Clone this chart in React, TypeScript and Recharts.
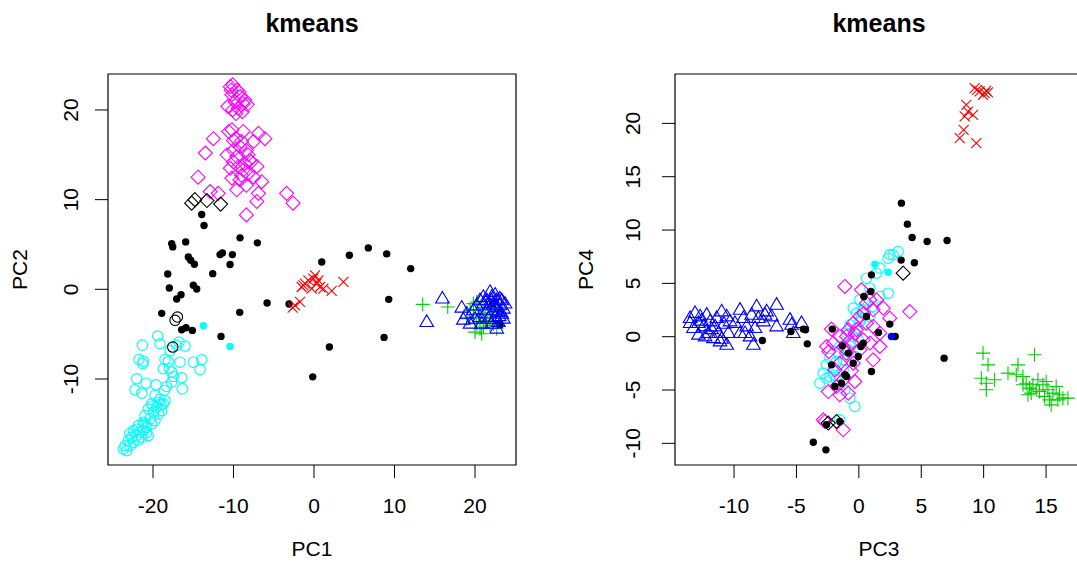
import React from 'react'
import { ScatterChart, Scatter, XAxis, YAxis, ReferenceArea } from 'recharts'

type Pt = [number, number]

// ---- left panel: PC1 vs PC2 ----
const leftXTicks = [-20, -10, 0, 10, 20]
const leftYTicks = [-10, 0, 10, 20]

const leftCyanOpen: Pt[] = [
  [-19.42, -5.21], [-19.13, -6.07], [-21.32, -6.22], [-21.74, -7.82], [-21.2, -8.01], [-21.28, -8.3],
  [-18.51, -7.82], [-18.09, -8.04], [-18.71, -8.86], [-17.97, -8.86], [-17.68, -9.24], [-16.64, -8.12],
  [-16.77, -5.88], [-16.02, -6.33], [-14.99, -8.12], [-13.95, -7.86], [-14.16, -8.94], [-22.03, -9.98],
  [-20.87, -10.47], [-22.23, -11.21], [-21.4, -11.58], [-19.62, -10.65], [-18.3, -10.84], [-18.59, -11.28],
  [-17.68, -10.35], [-16.44, -9.87], [-16.35, -11.1], [-17.47, -9.72], [-17.06, -6.26], [-17.88, -6.81],
  [-19.75, -11.84], [-19.13, -12.22], [-18.71, -12.77], [-20.16, -12.77], [-19.54, -13.15], [-20.58, -13.33],
  [-19.95, -13.71], [-18.92, -13.52], [-20.99, -14.08], [-20.37, -14.45], [-21.2, -14.82], [-19.75, -14.64],
  [-21.82, -15.19], [-20.78, -15.38], [-22.44, -15.75], [-21.61, -15.94], [-20.58, -16.31], [-22.03, -16.31],
  [-22.65, -16.5], [-23.06, -16.87], [-22.44, -17.06], [-23.47, -17.43], [-23.68, -17.8], [-23.27, -17.99],
  [-21.2, -15.75], [-20.16, -15.01], [-19.33, -12.59], [-21.4, -16.5], [-22.85, -17.43], [-18.51, -12.4],
  [-20.0, -13.0], [-19.3, -13.9], [-21.0, -15.0], [-22.0, -15.6], [-20.8, -16.0], [-21.8, -16.8],
  [-19.0, -12.9], [-22.9, -16.1],
]

const leftMagenta: Pt[] = [
  [-10.4, 22.6], [-10.1, 22.8], [-9.6, 22.2], [-10.2, 21.7], [-9.2, 21.5], [-9.8, 20.9], [-8.8, 20.7],
  [-10.7, 20.4], [-9.4, 20.2], [-8.3, 20.6], [-8.9, 19.8], [-10.1, 20.0], [-10.3, 22.2], [-9.3, 22.0],
  [-8.6, 21.1], [-9.7, 19.6],
  [-12.5, 16.8], [-13.5, 15.2], [-14.4, 12.5], [-10.6, 17.6], [-10.2, 17.8], [-8.8, 17.6], [-6.9, 17.4],
  [-6.1, 16.8], [-7.5, 16.5], [-10.0, 16.6], [-9.2, 15.9], [-8.4, 15.5], [-10.8, 15.0], [-9.6, 14.8],
  [-8.0, 14.4], [-7.1, 13.7], [-10.4, 13.5], [-8.8, 13.3], [-7.5, 12.5], [-6.5, 12.0], [-10.2, 12.4],
  [-9.2, 12.2], [-8.4, 11.6], [-9.6, 11.1], [-6.9, 10.7], [-7.1, 9.8], [-8.4, 8.3], [-12.9, 10.9],
  [-11.9, 10.7], [-3.4, 10.7], [-2.6, 9.6], [-9.7, 16.8], [-9.0, 16.5], [-8.2, 15.0], [-7.8, 14.2],
  [-10.0, 14.2], [-9.4, 13.7], [-8.6, 14.0], [-8.2, 12.9], [-9.0, 12.7], [-10.0, 15.5],
]

const leftBlackDot: Pt[] = [
  [-13.95, 8.34], [-13.66, 7.11], [-17.68, 5.1], [-17.55, 4.73], [-15.94, 5.29], [-9.19, 5.74], [-7.04, 5.18],
  [-15.61, 3.61], [-15.32, 3.24], [-14.86, 2.79], [-11.67, 3.87], [-11.38, 4.06], [-10.14, 3.87],
  [-10.43, 2.76], [-12.58, 1.75], [-18.17, 1.71], [-17.97, 0.15], [-14.99, 0.45], [-14.57, 0.04],
  [-16.52, -0.6], [-17.06, -1.08], [-18.92, -2.68], [-16.44, -4.51], [-15.9, -4.28], [-15.11, -4.58],
  [-11.55, -5.25], [-9.23, -2.57], [-5.83, -1.53], [-3.1, -1.64], [0.96, 3.05], [4.39, 3.8], [6.75, 4.62],
  [9.03, 3.95], [12.01, 2.31], [9.28, -1.12], [8.7, -5.36], [1.91, -6.44], [-0.16, -9.76], [23.1, -4.02],
  [22.2, -1.6],
]

const leftBlackDiamond: Pt[] = [[-15.2, 9.6], [-14.8, 10.0], [-13.3, 9.9], [-11.6, 9.5]]
const leftBlackCircle: Pt[] = [[-16.97, -3.09], [-17.26, -3.46], [-17.55, -6.44]]
const leftCyanDot: Pt[] = [[-13.74, -4.06], [-10.43, -6.37]]

const leftRed: Pt[] = [
  [-1.11, 0.63], [-1.53, 0.26], [-0.7, 1.0], [-0.08, 1.19], [0.33, 0.63], [0.75, 0.26], [-0.29, 0.08],
  [0.54, 1.0], [1.16, 0.08], [2.2, -0.18], [3.65, 0.82], [-1.74, -1.41], [-2.36, -1.79], [-2.65, -2.05],
  [-1.32, 0.45], [0.13, 1.56],
]

const leftGreen: Pt[] = [
  [13.5, -1.68], [16.61, -1.97], [19.38, -2.35], [19.8, -3.09], [20.21, -3.84], [20.62, -4.39], [20.0, -4.77],
  [21.04, -4.21], [21.45, -3.46], [18.97, -3.28], [21.87, -4.02], [22.28, -3.84], [20.42, -2.72],
  [21.25, -3.09], [20.83, -4.95], [22.7, -4.39], [19.8, -1.6], [23.1, -2.9], [20.21, -1.41], [21.0, -2.0],
  [22.0, -2.6],
]

const leftBlue: Pt[] = [
  [15.95, -1.04], [14.0, -3.65], [18.35, -2.05], [18.55, -3.39], [19.8, -2.35], [20.62, -1.23], [21.87, -0.3],
  [21.04, -1.6], [21.45, -2.35], [22.28, -1.6], [22.7, -1.23], [23.1, -1.79], [23.52, -2.16], [22.49, -3.09],
  [22.9, -2.53], [22.07, -3.84], [22.7, -4.39], [23.32, -2.72], [21.66, -3.28], [20.62, -3.09],
  [19.38, -3.84], [21.04, -0.86], [20.21, -1.79], [23.73, -1.6], [23.1, -1.04], [22.07, -0.86],
  [21.45, -1.23], [22.9, -3.65], [23.52, -3.28], [20.83, -3.84], [20.0, -3.28], [22.28, -2.35],
  [21.87, -1.79], [18.97, -2.72], [22.7, -1.97], [23.32, -1.23], [22.5, -0.6], [23.0, -3.0],
  [21.3, -2.7], [22.0, -1.2],
]

// ---- right panel: PC3 vs PC4 ----
const rightXTicks = [-10, -5, 0, 5, 10, 15]
const rightYTicks = [-10, -5, 0, 5, 10, 15, 20]

const rightBlue: Pt[] = [
  [-13.52, 1.74], [-13.12, 2.21], [-12.72, 1.9], [-12.19, 2.05], [-12.85, 1.27], [-12.45, 0.96],
  [-11.92, 1.43], [-11.39, 1.74], [-10.99, 2.36], [-10.59, 1.9], [-11.52, 0.96], [-12.05, 0.33],
  [-12.85, 0.18], [-12.32, 0.02], [-11.65, -0.14], [-11.12, -0.45], [-10.59, -0.76], [-10.45, 0.33],
  [-9.92, 1.27], [-9.52, 2.52], [-9.25, 1.74], [-8.99, 0.96], [-8.59, 2.05], [-8.19, 2.83], [-8.05, 1.74],
  [-8.32, 0.8], [-7.65, 1.43], [-7.39, 2.36], [-6.99, 1.9], [-6.59, 2.99], [-6.59, 0.96], [-8.45, -0.76],
  [-9.12, 0.33], [-5.52, 1.58], [-5.25, 0.33], [-4.59, 1.27], [-5.39, 1.11], [-13.25, 0.8], [-10.32, 1.43],
  [-9.52, 0.33], [-8.72, 0.02], [-7.52, 2.05], [-11.25, 0.33], [-13.52, 1.27], [-12.6, 1.5],
  [-11.8, 0.7], [-10.8, 1.2], [-11.0, -0.2],
]

const rightGreen: Pt[] = [
  [9.95, -1.54], [10.35, -2.64], [14.08, -1.7], [12.75, -2.64], [9.81, -3.89], [10.21, -4.36], [10.88, -4.04],
  [11.95, -3.42], [12.61, -3.57], [13.15, -3.73], [13.41, -4.36], [13.68, -4.82], [13.95, -4.51],
  [14.35, -4.04], [14.75, -4.51], [15.01, -4.2], [15.15, -4.98], [15.55, -5.29], [15.81, -4.67],
  [16.08, -5.45], [16.35, -5.76], [16.75, -5.76], [15.28, -5.92], [15.41, -6.39], [14.48, -5.14],
  [13.81, -5.29], [13.55, -5.45], [14.88, -5.6], [15.95, -5.92], [13.15, -4.51], [10.21, -4.98],
  [14.21, -4.98],
]

const rightRed: Pt[] = [
  [9.28, 23.3], [9.68, 23.0], [10.08, 22.83], [10.35, 22.9], [9.47, 23.14], [9.95, 22.68], [10.21, 23.08],
  [8.61, 21.74], [8.48, 20.65], [9.15, 20.8], [8.4, 19.4], [8.08, 18.61], [9.41, 18.15], [8.75, 21.1],
]

const rightCyanOpen: Pt[] = [
  [3.15, 7.99], [2.75, 7.68], [2.35, 7.36], [2.48, 7.68], [1.68, 6.43], [1.41, 5.96], [0.61, 5.49],
  [0.88, 4.55], [2.35, 4.08], [1.68, 3.77], [0.08, 3.46], [-0.45, 2.68], [-0.19, 2.21], [0.35, 2.52],
  [0.88, 1.89], [0.08, 1.43], [-0.72, 1.11], [-0.99, 0.33], [-0.45, 0.02], [-0.05, -0.29], [-1.52, -0.92],
  [-0.85, -1.23], [-0.32, -1.86], [-1.25, -2.17], [-1.79, -2.32], [-2.32, -2.01], [-2.59, -2.64],
  [-2.05, -2.95], [-2.85, -3.42], [-2.32, -3.73], [-1.79, -4.04], [-3.12, -4.36], [-1.52, -4.51],
  [-1.12, -4.98], [-0.72, -5.76], [-0.32, -6.54], [-1.52, -7.79], [0.21, 1.74], [1.15, 2.83], [-1.25, -3.11],
  [0.5, 3.0], [-0.2, 0.8], [-0.7, -0.6], [-1.6, -1.6], [-2.0, -3.6], [-2.6, -3.9],
]

const rightMagenta: Pt[] = [
  [-1.12, 4.71], [4.08, 2.36], [-2.19, 0.71], [-2.59, -0.92], [-2.72, -7.95], [-1.25, -8.73], [-2.05, -0.61],
  [-1.52, 0.02], [-0.85, 0.65], [-0.45, 1.27], [0.08, 1.89], [0.61, 3.14], [0.88, 3.46], [1.15, 2.52],
  [1.95, 2.68], [2.48, 1.74], [1.68, 0.33], [1.15, -2.17], [0.21, 4.4], [-0.19, 0.65], [-0.59, -0.61],
  [-0.99, -1.54], [-1.52, -2.48], [-1.92, -3.11], [-0.45, -2.48], [0.08, -1.23], [0.35, -0.29],
  [-1.25, -4.04], [-2.45, -5.14], [-1.52, -5.45], [-0.85, -5.29], [-0.32, -4.2], [1.15, 0.96], [1.41, 3.46],
  [0.61, 1.27], [-0.99, 0.02], [-1.79, -4.67], [-2.85, -7.79], [1.68, -0.92], [0.4, 2.2], [-0.3, 0.3],
  [-1.2, -1.0], [-0.6, -3.2], [0.9, -0.6], [-2.4, -1.4],
]

const rightBlackDot: Pt[] = [
  [3.41, 12.52], [3.89, 10.55], [4.27, 9.3], [5.47, 8.93], [7.07, 9.02], [3.39, 7.18], [4.45, 6.93],
  [1.01, 5.8], [0.96, 4.24], [0.4, 3.77], [2.48, 1.18], [2.91, 0.02], [1.57, 0.39], [6.83, -2.01],
  [1.01, -3.26], [-4.45, 0.71], [-4.27, 0.65], [-5.44, 0.49], [-7.73, -0.36], [-4.13, -0.67], [-2.13, 0.71],
  [-2.19, -2.64], [-1.33, -0.86], [-0.99, -3.73], [-1.12, -3.57], [0.16, -0.92], [0.35, -0.61],
  [-2.59, -8.26], [-1.52, -7.95], [-3.65, -9.89], [-2.64, -10.61], [-0.05, -1.86], [-0.45, -2.48],
  [-1.39, -4.36], [0.61, 1.89], [-1.92, -4.67], [-0.85, -1.54],
]

const rightBlackDiamond: Pt[] = [[3.55, 5.96], [-2.45, -8.1], [-1.79, -7.95]]
const rightCyanDot: Pt[] = [[1.28, 6.8], [2.35, 6.05]]
const rightBlueDot: Pt[] = [[2.61, 0.02]]

const FONT = '"Liberation Sans", Arial, Helvetica, sans-serif'
const CYAN = '#00FFFF'
const MAGENTA = '#FF00FF'
const RED = '#FF0000'
const GREEN = '#00CD00'
const BLUE = '#0000FF'
const BLACK = '#000000'

type Kind = 'circle' | 'dot' | 'diamond' | 'triangle' | 'plus' | 'cross'

function makeShape(kind: Kind, color: string) {
  return (p: any) => {
    const cx = p.cx
    const cy = p.cy
    if (cx == null || cy == null) return <g />
    const sw = 1.1
    switch (kind) {
      case 'circle':
        return <circle cx={cx} cy={cy} r={5.2} fill="none" stroke={color} strokeWidth={sw} />
      case 'dot':
        return <circle cx={cx} cy={cy} r={3.7} fill={color} stroke="none" />
      case 'diamond':
        return (
          <polygon
            points={`${cx},${cy - 7} ${cx + 7},${cy} ${cx},${cy + 7} ${cx - 7},${cy}`}
            fill="none"
            stroke={color}
            strokeWidth={sw}
          />
        )
      case 'triangle':
        return (
          <polygon
            points={`${cx},${cy - 7.2} ${cx + 6.8},${cy + 4.4} ${cx - 6.8},${cy + 4.4}`}
            fill="none"
            stroke={color}
            strokeWidth={sw}
          />
        )
      case 'plus':
        return (
          <path d={`M${cx - 7},${cy}H${cx + 7}M${cx},${cy - 7}V${cy + 7}`} stroke={color} strokeWidth={sw} />
        )
      default:
        return (
          <path
            d={`M${cx - 5},${cy - 5}L${cx + 5},${cy + 5}M${cx - 5},${cy + 5}L${cx + 5},${cy - 5}`}
            stroke={color}
            strokeWidth={sw}
          />
        )
    }
  }
}

interface Series {
  name: string
  pts: Pt[]
  kind: Kind
  color: string
}

interface PanelProps {
  left: number
  width: number
  margin: { top: number; right: number; bottom: number; left: number }
  xDomain: [number, number]
  yDomain: [number, number]
  xTicks: number[]
  yTicks: number[]
  yLabelGap: number
  series: Series[]
}

function Panel({ left, width, margin, xDomain, yDomain, xTicks, yTicks, yLabelGap, series }: PanelProps) {
  const xTick = (p: any) => (
    <text x={p.x} y={p.y + 35} textAnchor="middle" fontSize={21} fontFamily={FONT} fill="#000">
      {p.payload.value}
    </text>
  )
  const yTick = (p: any) => {
    const tx = p.x - yLabelGap
    return (
      <text
        x={tx}
        y={p.y}
        transform={`rotate(-90 ${tx} ${p.y})`}
        textAnchor="middle"
        fontSize={21}
        fontFamily={FONT}
        fill="#000"
      >
        {p.payload.value}
      </text>
    )
  }
  return (
    <div style={{ position: 'absolute', left, top: 0 }}>
      <ScatterChart width={width} height={568} margin={margin}>
        <XAxis
          type="number"
          dataKey="x"
          domain={xDomain}
          ticks={xTicks}
          allowDataOverflow
          height={30}
          axisLine={false}
          tickSize={13}
          tickMargin={0}
          tickLine={{ stroke: '#000', strokeWidth: 1 }}
          tick={xTick}
          interval={0}
        />
        <YAxis
          type="number"
          dataKey="y"
          domain={yDomain}
          ticks={yTicks}
          allowDataOverflow
          width={60}
          axisLine={false}
          tickSize={13}
          tickMargin={0}
          tickLine={{ stroke: '#000', strokeWidth: 1 }}
          tick={yTick}
          interval={0}
        />
        <ReferenceArea
          x1={xDomain[0]}
          x2={xDomain[1]}
          y1={yDomain[0]}
          y2={yDomain[1]}
          fill="none"
          fillOpacity={0}
          stroke="#000"
          strokeWidth={1.2}
        />
        {series.map((s) => (
          <Scatter
            key={s.name}
            name={s.name}
            data={s.pts.map(([x, y]) => ({ x, y }))}
            shape={makeShape(s.kind, s.color)}
            isAnimationActive={false}
          />
        ))}
      </ScatterChart>
    </div>
  )
}

export default function App() {
  const leftSeries: Series[] = [
    { name: 'lc', pts: leftCyanOpen, kind: 'circle', color: CYAN },
    { name: 'lm', pts: leftMagenta, kind: 'diamond', color: MAGENTA },
    { name: 'lk', pts: leftBlackDot, kind: 'dot', color: BLACK },
    { name: 'lkd', pts: leftBlackDiamond, kind: 'diamond', color: BLACK },
    { name: 'lkc', pts: leftBlackCircle, kind: 'circle', color: BLACK },
    { name: 'lcd', pts: leftCyanDot, kind: 'dot', color: CYAN },
    { name: 'lr', pts: leftRed, kind: 'cross', color: RED },
    { name: 'lg', pts: leftGreen, kind: 'plus', color: GREEN },
    { name: 'lb', pts: leftBlue, kind: 'triangle', color: BLUE },
  ]
  const rightSeries: Series[] = [
    { name: 'rb', pts: rightBlue, kind: 'triangle', color: BLUE },
    { name: 'rg', pts: rightGreen, kind: 'plus', color: GREEN },
    { name: 'rr', pts: rightRed, kind: 'cross', color: RED },
    { name: 'rc', pts: rightCyanOpen, kind: 'circle', color: CYAN },
    { name: 'rm', pts: rightMagenta, kind: 'diamond', color: MAGENTA },
    { name: 'rk', pts: rightBlackDot, kind: 'dot', color: BLACK },
    { name: 'rkd', pts: rightBlackDiamond, kind: 'diamond', color: BLACK },
    { name: 'rcd', pts: rightCyanDot, kind: 'dot', color: CYAN },
    { name: 'rbd', pts: rightBlueDot, kind: 'dot', color: BLUE },
  ]

  return (
    <div
      style={{
        position: 'absolute',
        left: 0,
        top: 0,
        width: 1077,
        height: 568,
        overflow: 'hidden',
        background: '#fff',
      }}
    >
      <Panel
        left={0}
        width={540}
        margin={{ top: 74, right: 24, bottom: 73, left: 48 }}
        xDomain={[-25.59, 25.09]}
        yDomain={[-19.59, 24.01]}
        xTicks={leftXTicks}
        yTicks={leftYTicks}
        yLabelGap={17}
        series={leftSeries}
      />
      <Panel
        left={540}
        width={560}
        margin={{ top: 74, right: 17, bottom: 73, left: 75 }}
        xDomain={[-14.73, 17.96]}
        yDomain={[-12.03, 24.63]}
        xTicks={rightXTicks}
        yTicks={rightYTicks}
        yLabelGap={22}
        series={rightSeries}
      />
      <svg
        width={1077}
        height={568}
        style={{ position: 'absolute', left: 0, top: 0, pointerEvents: 'none' }}
        fontFamily={FONT}
      >
        <text x={312} y={32} textAnchor="middle" fontSize={25} fontWeight="bold">kmeans</text>
        <text x={879} y={32} textAnchor="middle" fontSize={25} fontWeight="bold">kmeans</text>
        <text x={312} y={556} textAnchor="middle" fontSize={21}>PC1</text>
        <text x={879} y={556} textAnchor="middle" fontSize={21}>PC3</text>
        <text x={27} y={269.5} textAnchor="middle" fontSize={21} transform="rotate(-90 27 269.5)">PC2</text>
        <text x={593} y={269.5} textAnchor="middle" fontSize={21} transform="rotate(-90 593 269.5)">PC4</text>
      </svg>
    </div>
  )
}
